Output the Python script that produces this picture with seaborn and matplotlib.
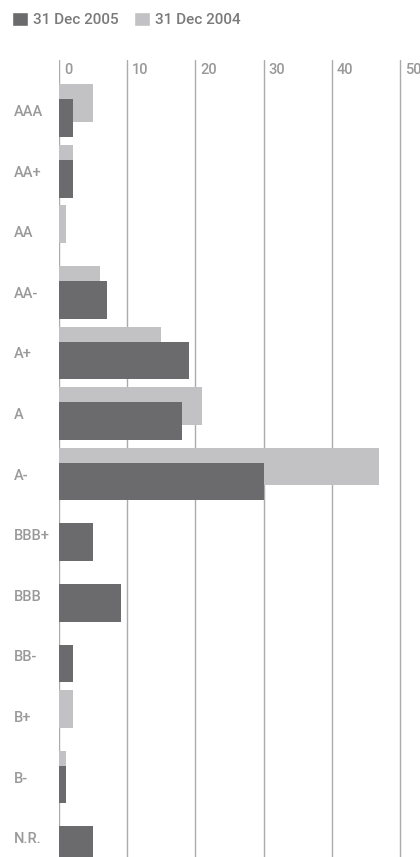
import numpy as np
import matplotlib
matplotlib.use("Agg")
import matplotlib.pyplot as plt
import seaborn as sns
from matplotlib.patches import Patch

# Portfolio share by credit rating (%)
ratings = ["AAA", "AA+", "AA", "AA-", "A+", "A", "A-",
           "BBB+", "BBB", "BB-", "B+", "B-", "N.R."]
share_2005 = [2, 2, 0, 7, 19, 18, 30, 5, 9, 2, 0, 1, 5]
share_2004 = [5, 2, 1, 6, 15, 21, 47, 0, 0, 0, 2, 1, 0]
x_ticks = [0, 10, 20, 30, 40, 50]
series_labels = ["31 Dec 2005", "31 Dec 2004"]

DARK = "#6b6b6d"
LIGHT = "#c2c2c5"
GRID = "#ababab"
LABEL = "#999999"
LEGEND_TXT = "#7a7a7a"

sns.set_theme(style="white")
plt.rcParams["font.family"] = ["Roboto", "DejaVu Sans"]
plt.rcParams["font.weight"] = 500

W, H = 420, 857
fig = plt.figure(figsize=(W / 100, H / 100), dpi=100)
ax = fig.add_axes([59.3 / W, 0, (403.2 - 59.3) / W, (H - 60) / H])

pos = np.arange(len(ratings), dtype=float)
shift = 0.124
bar_h = 0.622

# older series sits slightly above and behind the newer one
sns.barplot(x=share_2004, y=pos - shift, orient="y", native_scale=True,
            width=bar_h, color=LIGHT, saturation=1, errorbar=None, ax=ax,
            linewidth=0)
sns.barplot(x=share_2005, y=pos + shift, orient="y", native_scale=True,
            width=bar_h, color=DARK, saturation=1, errorbar=None, ax=ax,
            linewidth=0)

ax.set_xlim(0, 50.5)
ax.set_ylim(12.32, -0.835)
ax.set_axisbelow(True)
ax.set_xticks(x_ticks)
ax.xaxis.grid(True, color=GRID, linewidth=1.0)
ax.yaxis.grid(False)
ax.tick_params(axis="x", length=0, labelbottom=False)
for s in ax.spines.values():
    s.set_visible(False)

for t in x_ticks:
    ax.annotate(str(t), xy=(t, 1), xycoords=("data", "axes fraction"),
                xytext=(3.5, -2.0), textcoords="offset points",
                ha="left", va="top", fontsize=10.5, color=LABEL)

ax.set_yticks(pos)
ax.set_yticklabels(ratings)
ax.tick_params(axis="y", length=0, pad=(59.3 - 14) * 0.72, labelsize=10.5,
               labelcolor=LABEL)
for lab in ax.get_yticklabels():
    lab.set_horizontalalignment("left")
ax.set_xlabel("")
ax.set_ylabel("")

handles = [Patch(facecolor=DARK, label=series_labels[0]),
           Patch(facecolor=LIGHT, label=series_labels[1])]
fig.legend(handles=handles, loc="upper left",
           bbox_to_anchor=(12 / W, 1 - 12 / H), ncol=2, frameon=False,
           fontsize=11, labelcolor=LEGEND_TXT, handlelength=1.05,
           handleheight=1.05, handletextpad=0.35, columnspacing=0.95,
           borderpad=0, borderaxespad=0)

fig.savefig("out.png", dpi=100)
